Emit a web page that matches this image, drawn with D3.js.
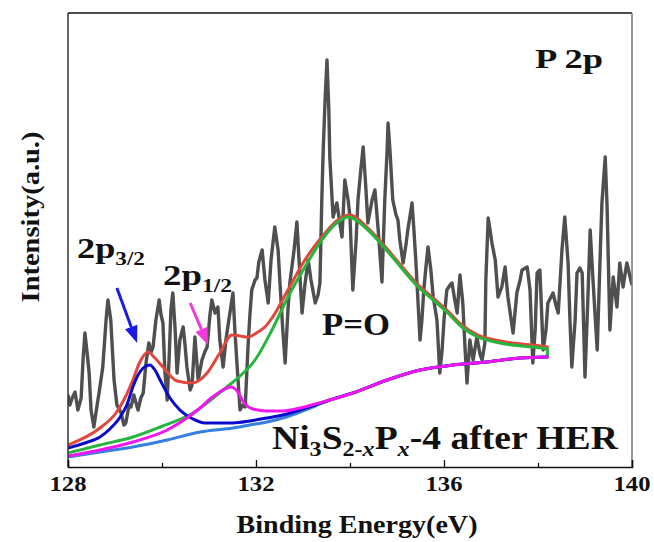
<!DOCTYPE html>
<html>
<head>
<meta charset="utf-8">
<script src="https://cdn.jsdelivr.net/npm/d3@7"></script>
<style>
  html, body { margin: 0; padding: 0; background: #fff; }
  svg { display: block; }
</style>
</head>
<body>
<svg id="chart" width="654" height="542"></svg>
<script>
// P 2p high-resolution spectrum: [binding energy (eV), intensity (a.u.)]
const rawSpectrum = [
  [128.00,72],[128.04,62],[128.09,69],[128.15,75],[128.21,57],[128.28,69],[128.32,107],[128.36,134],[128.40,117],[128.45,94],
  [128.49,57],[128.55,40],[128.62,62],[128.66,74],[128.74,100],[128.81,147],[128.85,167],[128.91,147],[128.98,87],[129.04,62],
  [129.13,54],[129.19,42],[129.23,44],[129.30,62],[129.34,60],[129.40,72],[129.49,57],[129.55,69],[129.60,74],[129.66,104],
  [129.72,124],[129.77,115],[129.81,120],[129.87,147],[129.94,167],[129.98,152],[130.02,144],[130.06,97],[130.11,67],[130.15,107],
  [130.19,157],[130.23,174],[130.28,137],[130.32,94],[130.38,127],[130.45,140],[130.49,122],[130.53,100],[130.60,77],[130.64,82],
  [130.70,130],[130.77,87],[130.85,107],[130.91,115],[130.96,120],[131.02,152],[131.06,167],[131.13,154],[131.19,160],[131.23,127],
  [131.30,100],[131.36,127],[131.40,140],[131.47,162],[131.51,174],[131.55,137],[131.60,100],[131.66,57],[131.72,62],[131.77,60],
  [131.83,120],[131.87,152],[131.91,177],[131.98,187],[132.02,189],[132.06,205],[132.13,217],[132.19,187],[132.26,164],[132.32,207],
  [132.40,240],[132.47,217],[132.51,184],[132.57,137],[132.62,104],[132.68,157],[132.72,184],[132.81,217],[132.87,245],[132.94,187],
  [132.98,154],[133.04,182],[133.11,207],[133.17,187],[133.26,164],[133.32,172],[133.36,184],[133.40,267],[133.43,317],[133.47,367],
  [133.51,407],[133.55,357],[133.57,310],[133.64,250],[133.68,257],[133.72,264],[133.79,242],[133.83,230],[133.89,287],[133.96,267],
  [134.00,250],[134.06,177],[134.13,227],[134.17,267],[134.23,297],[134.28,320],[134.34,277],[134.38,244],[134.47,267],[134.53,277],
  [134.60,237],[134.68,185],[134.74,267],[134.79,317],[134.81,344],[134.85,317],[134.91,267],[134.98,252],[135.02,247],[135.06,227],
  [135.13,204],[135.19,222],[135.23,237],[135.32,264],[135.36,237],[135.40,207],[135.49,127],[135.53,147],[135.57,177],[135.62,202],
  [135.66,220],[135.72,197],[135.77,170],[135.85,147],[135.91,94],[135.96,117],[136.00,147],[136.06,177],[136.13,182],[136.17,184],
  [136.23,167],[136.28,154],[136.34,192],[136.40,164],[136.45,117],[136.49,84],[136.55,127],[136.62,107],[136.70,130],[136.77,112],
  [136.81,107],[136.87,124],[136.89,187],[136.94,249],[136.98,237],[137.02,224],[137.09,207],[137.15,170],[137.23,180],[137.30,200],
  [137.36,170],[137.43,147],[137.47,134],[137.55,174],[137.62,187],[137.66,197],[137.77,200],[137.83,177],[137.89,104],[137.94,137],
  [137.98,194],[138.04,197],[138.11,117],[138.17,137],[138.21,164],[138.32,174],[138.38,162],[138.43,154],[138.51,217],[138.57,250],
  [138.64,204],[138.68,147],[138.72,100],[138.79,147],[138.83,194],[138.89,199],[138.94,194],[139.00,90],[139.06,167],[139.11,237],
  [139.17,187],[139.26,117],[139.32,207],[139.36,264],[139.43,310],[139.47,260],[139.53,137],[139.60,190],[139.68,160],[139.74,204],
  [139.81,180],[139.89,204],[139.96,190],[140.00,182]
];

// Fitted background
const backgroundFit = [
  [128.00,10],[128.68,15],[129.38,20],[130.11,27],[130.81,35],[131.51,39],[131.87,42],[132.23,45],[132.57,49],[132.94,55],
  [133.26,61],[133.57,67],[134.06,74],[134.79,87],[135.49,97],[136.19,102],[136.91,105],[137.62,109],[138.20,110]
];

// 2p3/2 component (on background)
const p32Fit = [
  [128.00,19],[128.36,24],[128.68,30],[128.89,38],[129.11,50],[129.26,63],[129.38,80],[129.49,92],[129.60,99],[129.74,102],
  [129.85,97],[129.96,87],[130.17,69],[130.38,57],[130.66,48],[130.91,44],[131.17,44],[131.51,44],[131.87,46],[132.23,49],
  [132.57,52],[132.94,57],[133.26,62],[133.57,67],[134.06,74],[134.79,87],[135.49,97],[136.19,102],[136.91,105],[137.62,109],[138.20,110]
];

// 2p1/2 component (on background)
const p12Fit = [
  [128.00,11],[128.68,17],[129.38,25],[130.11,37],[130.53,49],[130.81,59],[131.02,68],[131.23,75],[131.38,79],[131.47,80],
  [131.56,78],[131.64,73],[131.72,66],[131.81,61],[131.94,58],[132.23,56],[132.57,56],[132.94,59],[133.26,63],[133.57,67],
  [134.06,74],[134.79,87],[135.49,97],[136.19,102],[136.91,105],[137.62,109],[138.20,110]
];

// P=O component (on background)
const poFit = [
  [128.00,14],[128.68,22],[129.38,30],[129.96,40],[130.66,54],[131.38,80],[131.66,91],[131.98,107],[132.34,137],[132.68,170],
  [133.04,200],[133.40,227],[133.74,245],[133.96,250],[134.36,238],[134.70,221],[135.06,201],[135.43,181],[135.77,167],[136.06,155],
  [136.38,140],[136.72,130],[137.09,125],[137.45,122],[137.89,120],[138.20,118]
];

// Envelope of the fit
const envelopeFit = [
  [128.00,22],[128.68,39],[129.02,54],[129.21,69],[129.38,87],[129.53,105],[129.70,115],[129.85,109],[130.02,100],[130.32,86],
  [130.64,84],[130.96,94],[131.23,114],[131.49,132],[131.66,131],[131.83,130],[132.04,135],[132.19,140],[132.34,149],[132.68,177],
  [133.04,207],[133.40,230],[133.74,247],[134.00,252],[134.36,240],[134.70,223],[135.06,203],[135.43,183],[135.77,169],[136.06,157],
  [136.38,142],[136.72,132],[137.09,127],[137.45,124],[137.89,122],[138.20,120]
];

const majorTicks = [128, 132, 136, 140];
const minorTicks = [130, 134, 138];

// Arrows pointing at the two doublet peaks: [tail, tip] in data units
const arrow32 = [[129.04, 179], [129.47, 124]];
const arrow12 = [[130.60, 164], [130.98, 122]];

const FONT = "Liberation Serif";

const svg = d3.select("#chart");
const plot = { left: 68, right: 632, top: 13, bottom: 467 };

const x = d3.scaleLinear().domain([128, 140]).range([plot.left, plot.right]);
const y = d3.scaleLinear().domain([0, 454]).range([plot.bottom, plot.top]);

svg.append("defs").append("clipPath").attr("id", "plotClip")
  .append("rect").attr("x", plot.left).attr("y", plot.top)
  .attr("width", plot.right - plot.left).attr("height", plot.bottom - plot.top);

const g = svg.append("g").attr("clip-path", "url(#plotClip)");

const rawLine = d3.line().x(d => x(d[0])).y(d => y(d[1]));
const fitLine = d3.line().x(d => x(d[0])).y(d => y(d[1])).curve(d3.curveMonotoneX);

g.append("path").datum(rawSpectrum).attr("d", rawLine)
  .attr("fill", "none").attr("stroke", "#4f4f4f").attr("stroke-width", 3.4)
  .attr("stroke-linejoin", "round");

function drawFit(data, color, width) {
  g.append("path").datum(data).attr("d", fitLine)
    .attr("fill", "none").attr("stroke", color).attr("stroke-width", width)
    .attr("stroke-linecap", "round");
}

drawFit(envelopeFit, "#e2463d", 3);
drawFit(poFit, "#25b53c", 3);
// P=O component closes down onto the background at the end of the fit range
g.append("path")
  .datum([poFit[poFit.length - 1], backgroundFit[backgroundFit.length - 1]])
  .attr("d", rawLine).attr("fill", "none").attr("stroke", "#25b53c").attr("stroke-width", 3);
drawFit(backgroundFit, "#347fe0", 3);
drawFit(p32Fit, "#0a0acc", 3);
drawFit(p12Fit, "#f016f0", 3);

// Arrows
function drawArrow(pts, color) {
  const [t, h] = pts.map(p => [x(p[0]), y(p[1])]);
  const ang = Math.atan2(h[1] - t[1], h[0] - t[0]);
  const len = 17, half = 6.5;
  const bx = h[0] - len * Math.cos(ang), by = h[1] - len * Math.sin(ang);
  svg.append("line").attr("x1", t[0]).attr("y1", t[1]).attr("x2", bx).attr("y2", by)
    .attr("stroke", color).attr("stroke-width", 3);
  const px = -Math.sin(ang) * half, py = Math.cos(ang) * half;
  svg.append("path")
    .attr("d", `M${h[0]},${h[1]}L${bx + px},${by + py}L${bx - px},${by - py}Z`)
    .attr("fill", color);
}
drawArrow(arrow32, "#1a1ae8");
drawArrow(arrow12, "#f43ad6");

// Frame
svg.append("line").attr("x1", plot.left).attr("x2", plot.right).attr("y1", plot.top).attr("y2", plot.top)
  .attr("stroke", "#111").attr("stroke-width", 1.5);
svg.append("line").attr("x1", plot.right).attr("x2", plot.right).attr("y1", plot.top).attr("y2", plot.bottom)
  .attr("stroke", "#777").attr("stroke-width", 1.5);
svg.append("line").attr("x1", plot.left).attr("x2", plot.left).attr("y1", plot.top).attr("y2", plot.bottom)
  .attr("stroke", "#333").attr("stroke-width", 1.5);

// Bottom axis with inward ticks (labels drawn separately below)
const axisG = svg.append("g").attr("transform", `translate(0,${plot.bottom})`)
  .call(d3.axisBottom(x).tickValues(majorTicks).tickSize(-7).tickFormat(""));
axisG.select(".domain").attr("stroke", "#111").attr("stroke-width", 1.5);
axisG.selectAll(".tick line").attr("stroke", "#111").attr("stroke-width", 1.3);

const minorG = svg.append("g").attr("transform", `translate(0,${plot.bottom})`)
  .call(d3.axisBottom(x).tickValues(minorTicks).tickSize(-4).tickFormat(""));
minorG.select(".domain").remove();
minorG.selectAll(".tick line").attr("stroke", "#111").attr("stroke-width", 1.3);

// Text helper: builds a bold serif label at (px, py), optionally squeezed/stretched
// horizontally to a target width, rotated, and with subscript runs.
// parts = [text, mode], mode "", "sub", "subi"
function label(px, py, parts, size, width, opts = {}) {
  const t = svg.append("text")
    .attr("font-family", FONT).attr("font-weight", "bold").attr("fill", "#111")
    .attr("font-size", size).attr("x", 0).attr("y", 0);
  if (opts.anchor) t.attr("text-anchor", opts.anchor);
  let shifted = 0;
  const subShift = Math.round(size * 0.22);
  parts.forEach(([s, mode]) => {
    const sp = t.append("tspan").text(s);
    const isSub = mode.includes("sub");
    const target = isSub ? subShift : 0;
    if (target !== shifted) { sp.attr("dy", target - shifted); shifted = target; }
    if (isSub) sp.attr("font-size", size * 0.64);
    if (mode.endsWith("i")) sp.attr("font-style", "italic");
  });
  const w = t.node().getComputedTextLength();
  const sx = width && w > 0 ? width / w : 1;
  const rot = opts.rotate ? ` rotate(${opts.rotate})` : "";
  t.attr("transform", `translate(${px},${py})${rot} scale(${sx},1)`);
  return t;
}

// Tick labels
majorTicks.forEach(v => label(x(v), 491, [[String(v), ""]], 21, 37, { anchor: "middle" }));

label(535, 68, [["P 2p", ""]], 28, 68);
label(77, 258, [["2p", ""], ["3/2", "sub"]], 30, 68);
label(163, 285, [["2p", ""], ["1/2", "sub"]], 30, 69);
label(322, 335, [["P=O", ""]], 32, 68);
label(272, 449, [["Ni", ""], ["3", "sub"], ["S", ""], ["2-", "sub"], ["x", "subi"], ["P", ""], ["x", "subi"], ["-4 after HER", ""]], 33, 346);

label(357, 533, [["Binding Energy(eV)", ""]], 25, 241, { anchor: "middle" });
label(39, 217, [["Intensity(a.u.)", ""]], 26, 171, { anchor: "middle", rotate: -90 });
</script>
</body>
</html>
